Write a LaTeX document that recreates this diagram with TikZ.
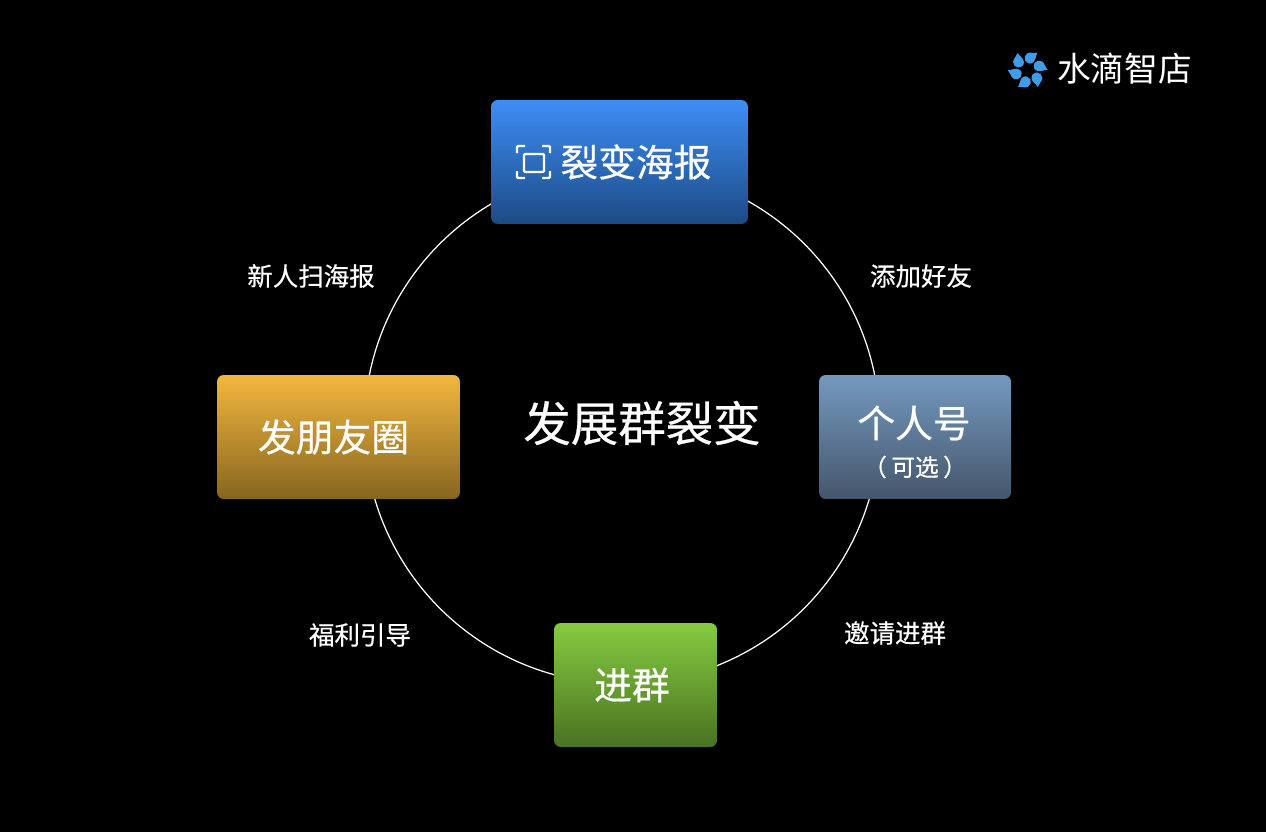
\documentclass[tikz,border=0pt]{standalone}
\usepackage{fontspec}
\setmainfont{Noto Sans CJK SC}[FakeBold=0.5]
\newfontfamily\brandfont{Noto Sans CJK SC}
\usetikzlibrary{positioning}

\definecolor{logoblue}{HTML}{409CE8}
\definecolor{postertop}{HTML}{3D8EF5}
\definecolor{posterbot}{HTML}{1D4A85}
\definecolor{wechattop}{HTML}{7499BF}
\definecolor{wechatbot}{HTML}{45566B}
\definecolor{circletop}{HTML}{F3B73F}
\definecolor{circlebot}{HTML}{86651F}
\definecolor{grouptop}{HTML}{85CB40}
\definecolor{groupbot}{HTML}{4A7222}

\tikzset{
    stagebox/.style={rounded corners=3.8pt, minimum height=2.48cm, inner sep=0pt, text=white, font=\fontsize{21.5}{26}\selectfont, align=center},
    steplabel/.style={text=white, inner sep=0pt, font=\fontsize{14.5}{17}\selectfont},
    iconline/.style={draw=white, line width=1.4pt, rounded corners=0.6pt},
}

\begin{document}
\begin{tikzpicture}[x=0.02cm, y=-0.02cm]
    \fill[black] (0,0) rectangle (1266,832);
    \useasboundingbox (0,0) rectangle (1266,832);

    % ring behind the boxes
    \node[circle, draw=white, line width=0.7pt, minimum size=10.31cm, inner sep=0pt] (ring) at (622,426) {};

    % boxes
    \node[stagebox, minimum width=5.14cm, top color=postertop, bottom color=posterbot] (poster) at (619.5,162) {\hspace*{18.7pt}裂变海报};
    \node[stagebox, minimum width=3.84cm, top color=wechattop, bottom color=wechatbot] (wechat) at (915,437) {};
    \node[stagebox, minimum width=3.26cm, top color=grouptop, bottom color=groupbot] (group) at (635.5,685) {进群\hspace*{4pt}};
    \node[stagebox, minimum width=4.86cm, top color=circletop, bottom color=circlebot] (moments) at (338.5,437) {发朋友圈\hspace*{5.7pt}};
    \node[text=white, inner sep=0pt, font=\fontsize{21.5}{26}\selectfont] (wechatname) at (914,423) {个人号};
    \node[text=white, inner sep=0pt, font=\fontsize{13.5}{16}\selectfont] (wechatnote) at (915,467) {（\hspace{2.5pt}可选\hspace{2.5pt}）};

    % scan icon
    \draw[iconline] (524,154) rectangle (544,172);
    \draw[iconline] (517,153) -- (517,146) -- (525,146);
    \draw[iconline] (542,146) -- (550,146) -- (550,153);
    \draw[iconline] (517,171) -- (517,178) -- (525,178);
    \draw[iconline] (542,178) -- (550,178) -- (550,171);

    % labels
    \node[text=white, inner sep=0pt, font=\fontsize{27}{32}\selectfont] (title) at (642,423) {发展群裂变};
    \node[steplabel] (scan) at (311,276) {新人扫海报};
    \node[steplabel] (addfriend) at (921,276) {添加好友};
    \node[steplabel] (invite) at (895,633) {邀请进群};
    \node[steplabel] (benefit) at (360,635) {福利引导};

    % logo
    \foreach \a in {0,60,...,300}
        \fill[logoblue, shift={(1027.7,70)}, rotate=\a] (10,17) .. controls (8,13.5) and (3.8,11.5) .. (3.8,7.8) .. controls (3.8,4.5) and (6.2,2.4) .. (9.2,2.4) .. controls (12.3,2.4) and (14.6,5) .. (14.6,8) .. controls (14.6,11.5) and (11,13.5) .. (10,17) -- cycle;
    \node[text=white, inner sep=0pt, font=\brandfont\fontsize{19.2}{23}\selectfont] (brand) at (1124.5,69) {水滴智店};
\end{tikzpicture}
\end{document}
